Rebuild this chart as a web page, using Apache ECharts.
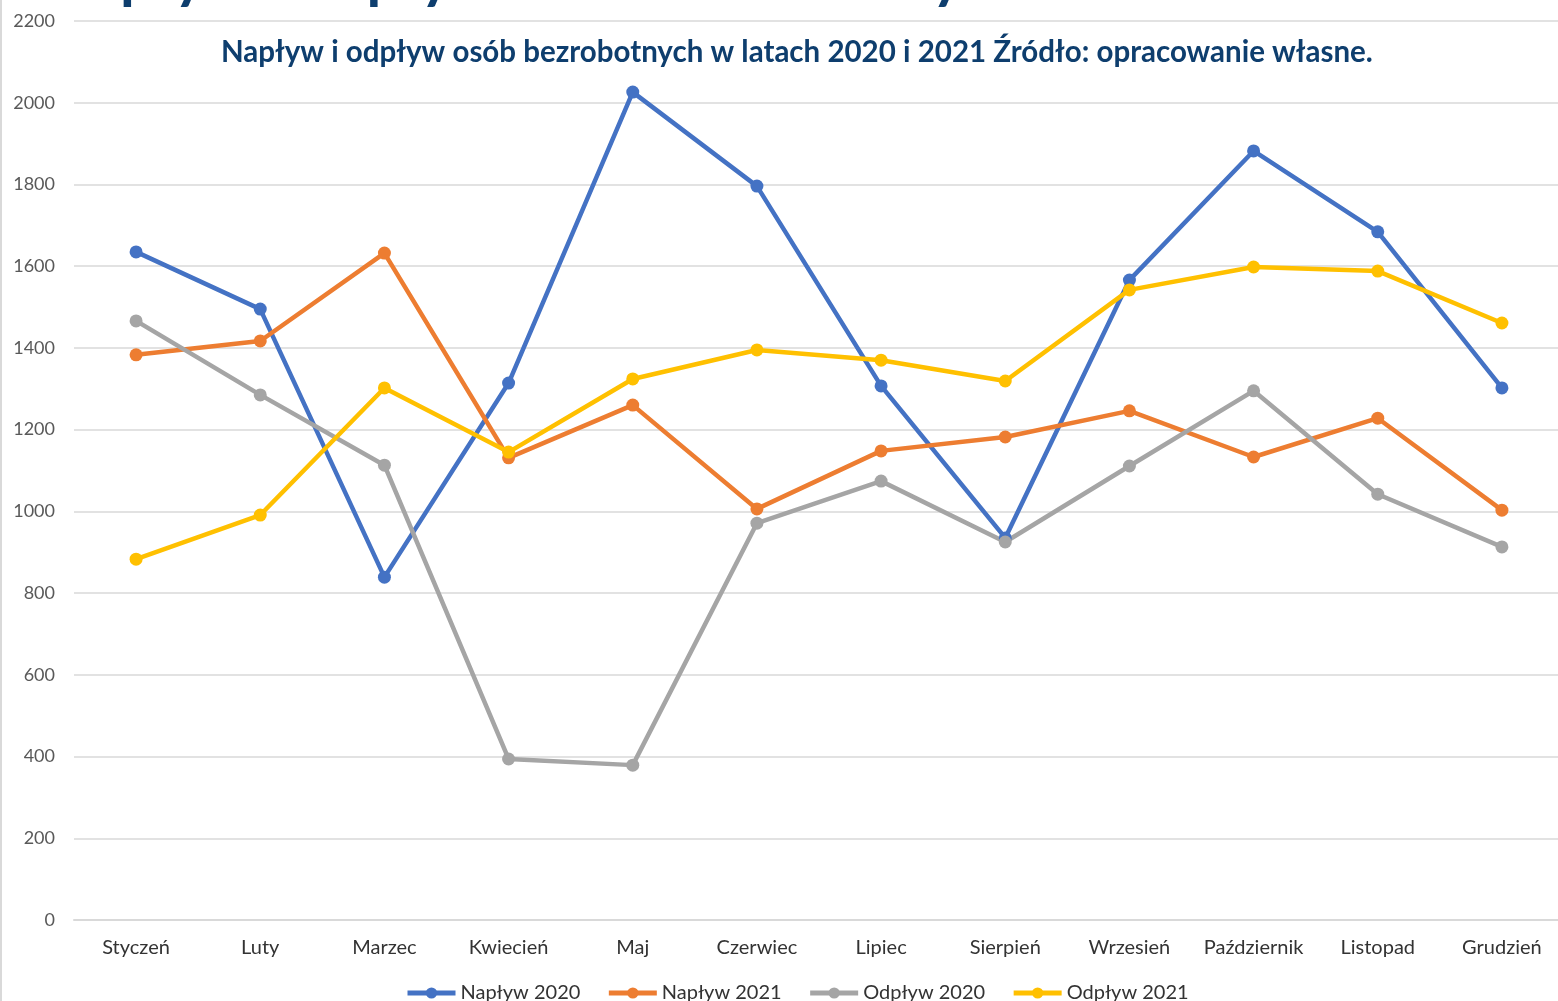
<!DOCTYPE html>
<html>
<head>
<meta charset="utf-8">
<script src="https://cdn.jsdelivr.net/npm/echarts@6/dist/echarts.min.js"></script>
<style>
  html, body { margin: 0; padding: 0; background: #fff; }
  #chart { width: 1558px; height: 1001px; }
</style>
</head>
<body>
<div id="chart"></div>
<script>
var months = ['Styczeń', 'Luty', 'Marzec', 'Kwiecień', 'Maj', 'Czerwiec', 'Lipiec', 'Sierpień', 'Wrzesień', 'Październik', 'Listopad', 'Grudzień'];
var naplyw2020 = [1635, 1495, 839, 1314, 2026, 1796, 1307, 935, 1566, 1882, 1684, 1302];
var naplyw2021 = [1383, 1417, 1632, 1131, 1260, 1006, 1148, 1182, 1246, 1133, 1228, 1003];
var odplyw2020 = [1466, 1285, 1113, 394, 379, 971, 1074, 925, 1111, 1295, 1042, 913];
var odplyw2021 = [883, 991, 1302, 1145, 1324, 1395, 1370, 1319, 1542, 1598, 1588, 1461];
var seriesNames = ['Napływ 2020', 'Napływ 2021', 'Odpływ 2020', 'Odpływ 2021'];
var seriesData = [naplyw2020, naplyw2021, odplyw2020, odplyw2021];

var chart = echarts.init(document.getElementById('chart'));

var option = {
    color: ['#4472c4', '#ed7d31', '#a5a5a5', '#ffc000'],
    textStyle: { fontFamily: 'Lato' },
    animation: false,
    title: {
        text: 'Napływ i odpływ osób bezrobotnych w latach 2020 i 2021 Źródło: opracowanie własne.',
        left: 216,
        top: 32,
        textStyle: { color: '#0e3e6e', fontSize: 29.5, fontWeight: 'bold', fontFamily: 'Lato' }
    },
    // duzy tytul, przyciety u gory
    graphic: [
        {
            type: 'text',
            left: 44,
            top: -52,
            style: {
                text: 'Napływ i odpływ osób bezrobotnych w latach 2020 i 2021',
                fill: '#0e3e6e',
                font: 'bold 60px Lato'
            }
        },
        {
            type: 'line',
            shape: { x1: 1, y1: 0, x2: 1, y2: 1001 },
            style: { stroke: '#d9d9d9', lineWidth: 2 }
        }
    ],
    legend: {
        data: seriesNames,
        top: 978,
        left: 400,
        itemWidth: 48,
        itemHeight: 14,
        itemGap: 26,
        lineStyle: { width: 5 },
        textStyle: { color: '#333333', fontSize: 20, fontFamily: 'Lato' }
    },
    grid: { left: 74, width: 1490, top: 21, bottom: 81, containLabel: false, outerBoundsMode: 'none' },
    xAxis: [
        {
            type: 'category',
            data: months,
            boundaryGap: true,
            axisLine: { lineStyle: { color: '#d9d9d9', width: 2 } },
            axisTick: { inside: true, length: 6, lineStyle: { color: '#d9d9d9', width: 2 } },
            axisLabel: { color: '#333333', fontSize: 20, margin: 18, interval: 0 }
        },
        {
            type: 'category',
            data: months,
            position: 'bottom',
            boundaryGap: true,
            axisLine: { show: false },
            axisTick: { alignWithLabel: true, length: 5, lineStyle: { color: '#d9d9d9', width: 2 } },
            axisLabel: { show: false }
        }
    ],
    yAxis: {
        type: 'value',
        min: 0,
        max: 2200,
        interval: 200,
        axisLine: { show: false },
        axisTick: { show: false },
        axisLabel: {
            color: '#595959',
            fontSize: 18,
            margin: 19,
            formatter: function (v) { return String(v); }
        },
        splitLine: { lineStyle: { color: '#d9d9d9', width: 1.5 } }
    },
    series: seriesNames.map(function (name, i) {
        return {
            name: name,
            type: 'line',
            xAxisIndex: 0,
            data: seriesData[i],
            symbol: 'circle',
            symbolSize: 13,
            lineStyle: { width: 4.5 }
        };
    })
};

chart.setOption(option);
</script>
</body>
</html>
